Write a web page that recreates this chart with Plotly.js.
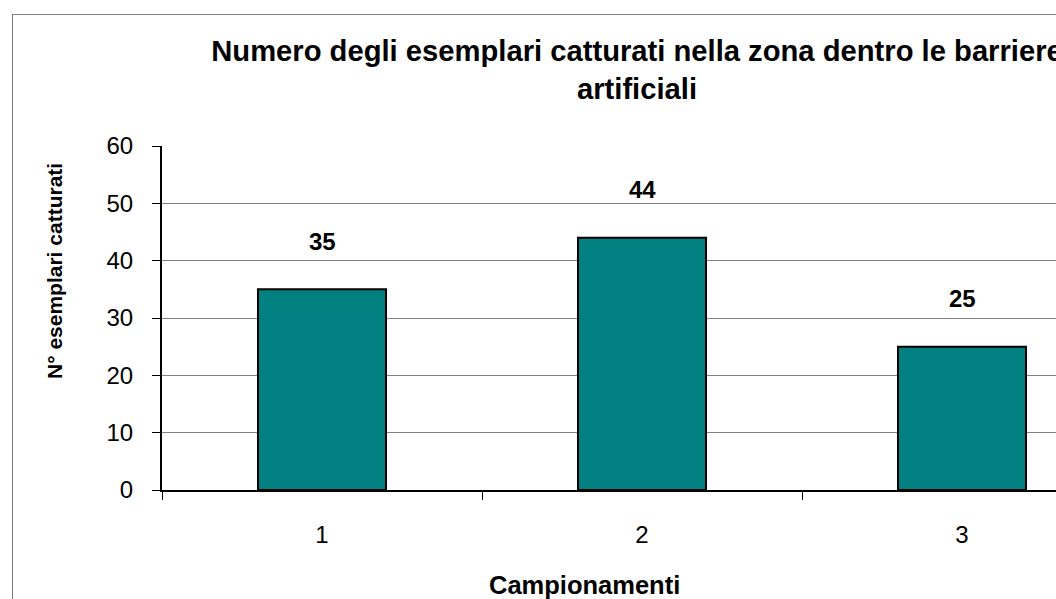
<!DOCTYPE html>
<html>
<head>
<meta charset="utf-8">
<script src="https://cdn.plot.ly/plotly-3.0.1.min.js"></script>
<style>
  html, body { margin: 0; padding: 0; background: #fff; overflow: hidden; width: 1056px; height: 599px; }
  #chart { position: absolute; left: 12px; top: 14px; border: 1px solid #808080; width: 1250px; height: 640px; }
</style>
</head>
<body>
<div id="chart"></div>
<script>
const categories = ['1', '2', '3'];
const values = [35, 44, 25];
const yTicks = [0, 10, 20, 30, 40, 50, 60];
const titleText = 'Numero degli esemplari catturati nella zona dentro le barriere<br>artificiali';
const xTitle = 'Campionamenti';
const yTitle = 'N° esemplari catturati';

const FONT = 'Arial, "Liberation Sans", sans-serif';

const trace = {
  type: 'bar',
  x: categories,
  y: values,
  width: 0.4,
  marker: { color: '#008080', line: { color: '#000000', width: 2 } },
  hoverinfo: 'x+y'
};

const valueLabels = categories.map((c, i) => ({
  x: i, y: values[i], xref: 'x', yref: 'y',
  text: '<b>' + values[i] + '</b>',
  showarrow: false, yshift: 48,
  font: { family: FONT, size: 24, color: '#000' }
}));

const axisTitles = [
  {
    text: '<b>' + yTitle + '</b>', textangle: -90,
    xref: 'paper', yref: 'paper', x: -0.1125, y: 0.6366,
    xanchor: 'center', yanchor: 'middle', showarrow: false,
    font: { family: FONT, size: 21, color: '#000' }
  },
  {
    text: '<b>' + xTitle + '</b>',
    xref: 'paper', yref: 'paper', x: 0.4396, y: -0.276,
    xanchor: 'center', yanchor: 'middle', showarrow: false,
    font: { family: FONT, size: 25.5, color: '#000' }
  }
];

const layout = {
  width: 1250, height: 640,
  margin: { l: 149, r: 141, t: 131, b: 165 },
  paper_bgcolor: '#ffffff',
  plot_bgcolor: '#ffffff',
  showlegend: false,
  font: { family: FONT, color: '#000' },
  title: {
    text: '<b>' + titleText + '</b>',
    font: { family: FONT, size: 29.2, color: '#000' },
    xref: 'container', x: 624 / 1250, xanchor: 'center',
    yref: 'container', y: 1 - 46 / 640, yanchor: 'top'
  },
  xaxis: {
    type: 'category',
    tickson: 'boundaries',
    ticks: 'outside', ticklen: 8, tickcolor: '#000', tickwidth: 1,
    ticklabelstandoff: 22,
    tickfont: { family: FONT, size: 24, color: '#000' },
    showline: true, linecolor: '#000', linewidth: 2,
    showgrid: false, zeroline: false
  },
  yaxis: {
    range: [0, 60],
    tickvals: yTicks,
    ticks: 'outside', ticklen: 8, tickcolor: '#000', tickwidth: 1,
    ticklabelstandoff: 14,
    tickfont: { family: FONT, size: 24, color: '#000' },
    showline: true, linecolor: '#000', linewidth: 2,
    showgrid: true, gridcolor: '#808080', gridwidth: 1,
    zeroline: false
  },
  annotations: valueLabels.concat(axisTitles),
  bargap: 0.6
};

Plotly.newPlot('chart', [trace], layout, { displayModeBar: false, staticPlot: true });
</script>
</body>
</html>
